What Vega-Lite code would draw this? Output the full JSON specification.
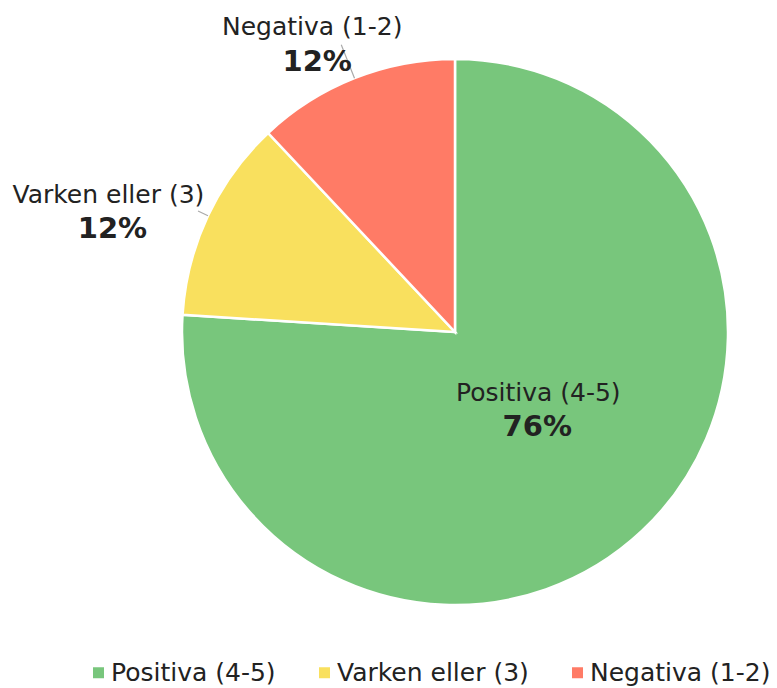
{
  "$schema": "https://vega.github.io/schema/vega-lite/v6.json",
  "width": 560,
  "height": 560,
  "autosize": {"type": "none"},
  "padding": {"left": 175, "top": 52, "right": 42, "bottom": 76},
  "background": "white",
  "config": {"view": {"stroke": null}, "font": "DejaVu Sans"},
  "data": {
    "values": [
      {"cat": "Positiva (4-5)", "value": 0.76},
      {"cat": "Varken eller (3)", "value": 0.12},
      {"cat": "Negativa (1-2)", "value": 0.12}
    ]
  },
  "encoding": {
    "theta": {"field": "value", "type": "quantitative", "stack": true},
    "order": {"field": "value", "sort": "descending"}
  },
  "layer": [
    {
      "mark": {"type": "arc", "outerRadius": 273, "stroke": "white", "strokeWidth": 2.5},
      "encoding": {
        "color": {
          "field": "cat",
          "type": "nominal",
          "scale": {
            "domain": ["Positiva (4-5)", "Varken eller (3)", "Negativa (1-2)"],
            "range": ["#78c67c", "#f9e05e", "#ff7b66"]
          },
          "legend": {
            "orient": "none",
            "legendX": -89,
            "legendY": 608,
            "direction": "horizontal",
            "title": null,
            "symbolType": "square",
            "symbolSize": 121,
            "symbolStrokeWidth": 0,
            "symbolOpacity": 1,
            "labelFontSize": 25,
            "labelFont": "DejaVu Sans",
            "labelColor": "#222222",
            "labelOffset": 0,
            "columnPadding": 36,
            "labelLimit": 400
          }
        }
      }
    },
    {
      "mark": {"type": "arc", "innerRadius": 273, "outerRadius": 309, "padAngle": 3, "fillOpacity": 0, "stroke": "#aaaaaa", "strokeWidth": 1.2},
      "encoding": {
        "strokeOpacity": {"condition": {"test": "datum.cat === 'Negativa (1-2)'", "value": 1}, "value": 0}
      }
    },
    {
      "mark": {"type": "arc", "innerRadius": 273, "outerRadius": 284, "padAngle": 3, "fillOpacity": 0, "stroke": "#aaaaaa", "strokeWidth": 1.2},
      "encoding": {
        "strokeOpacity": {"condition": {"test": "datum.cat === 'Varken eller (3)'", "value": 1}, "value": 0}
      }
    },
    {
      "mark": {"type": "text", "radius": 110, "dx": 8, "dy": -19, "fontSize": 25, "font": "DejaVu Sans", "color": "#222222", "align": "center", "baseline": "middle"},
      "encoding": {
        "text": {"condition": {"test": "datum.cat === 'Positiva (4-5)'", "field": "cat"}, "value": ""}
      }
    },
    {
      "mark": {"type": "text", "radius": 110, "dx": 7, "dy": 15, "fontSize": 29, "fontWeight": "bold", "font": "DejaVu Sans", "color": "#222222", "align": "center", "baseline": "middle"},
      "encoding": {
        "text": {"condition": {"test": "datum.cat === 'Positiva (4-5)'", "field": "value", "type": "quantitative", "format": ".0%"}, "value": ""}
      }
    },
    {
      "mark": {"type": "text", "radius": 320, "dx": -25, "dy": -7, "fontSize": 25, "font": "DejaVu Sans", "color": "#222222", "align": "center", "baseline": "middle"},
      "encoding": {
        "text": {"condition": {"test": "datum.cat === 'Negativa (1-2)'", "field": "cat"}, "value": ""}
      }
    },
    {
      "mark": {"type": "text", "radius": 320, "dx": -20, "dy": 28, "fontSize": 29, "fontWeight": "bold", "font": "DejaVu Sans", "color": "#222222", "align": "center", "baseline": "middle"},
      "encoding": {
        "text": {"condition": {"test": "datum.cat === 'Negativa (1-2)'", "field": "value", "type": "quantitative", "format": ".0%"}, "value": ""}
      }
    },
    {
      "mark": {"type": "text", "radius": 330, "dx": -48, "dy": 4, "fontSize": 25, "font": "DejaVu Sans", "color": "#222222", "align": "center", "baseline": "middle"},
      "encoding": {
        "text": {"condition": {"test": "datum.cat === 'Varken eller (3)'", "field": "cat"}, "value": ""}
      }
    },
    {
      "mark": {"type": "text", "radius": 330, "dx": -44, "dy": 38, "fontSize": 29, "fontWeight": "bold", "font": "DejaVu Sans", "color": "#222222", "align": "center", "baseline": "middle"},
      "encoding": {
        "text": {"condition": {"test": "datum.cat === 'Varken eller (3)'", "field": "value", "type": "quantitative", "format": ".0%"}, "value": ""}
      }
    }
  ]
}
